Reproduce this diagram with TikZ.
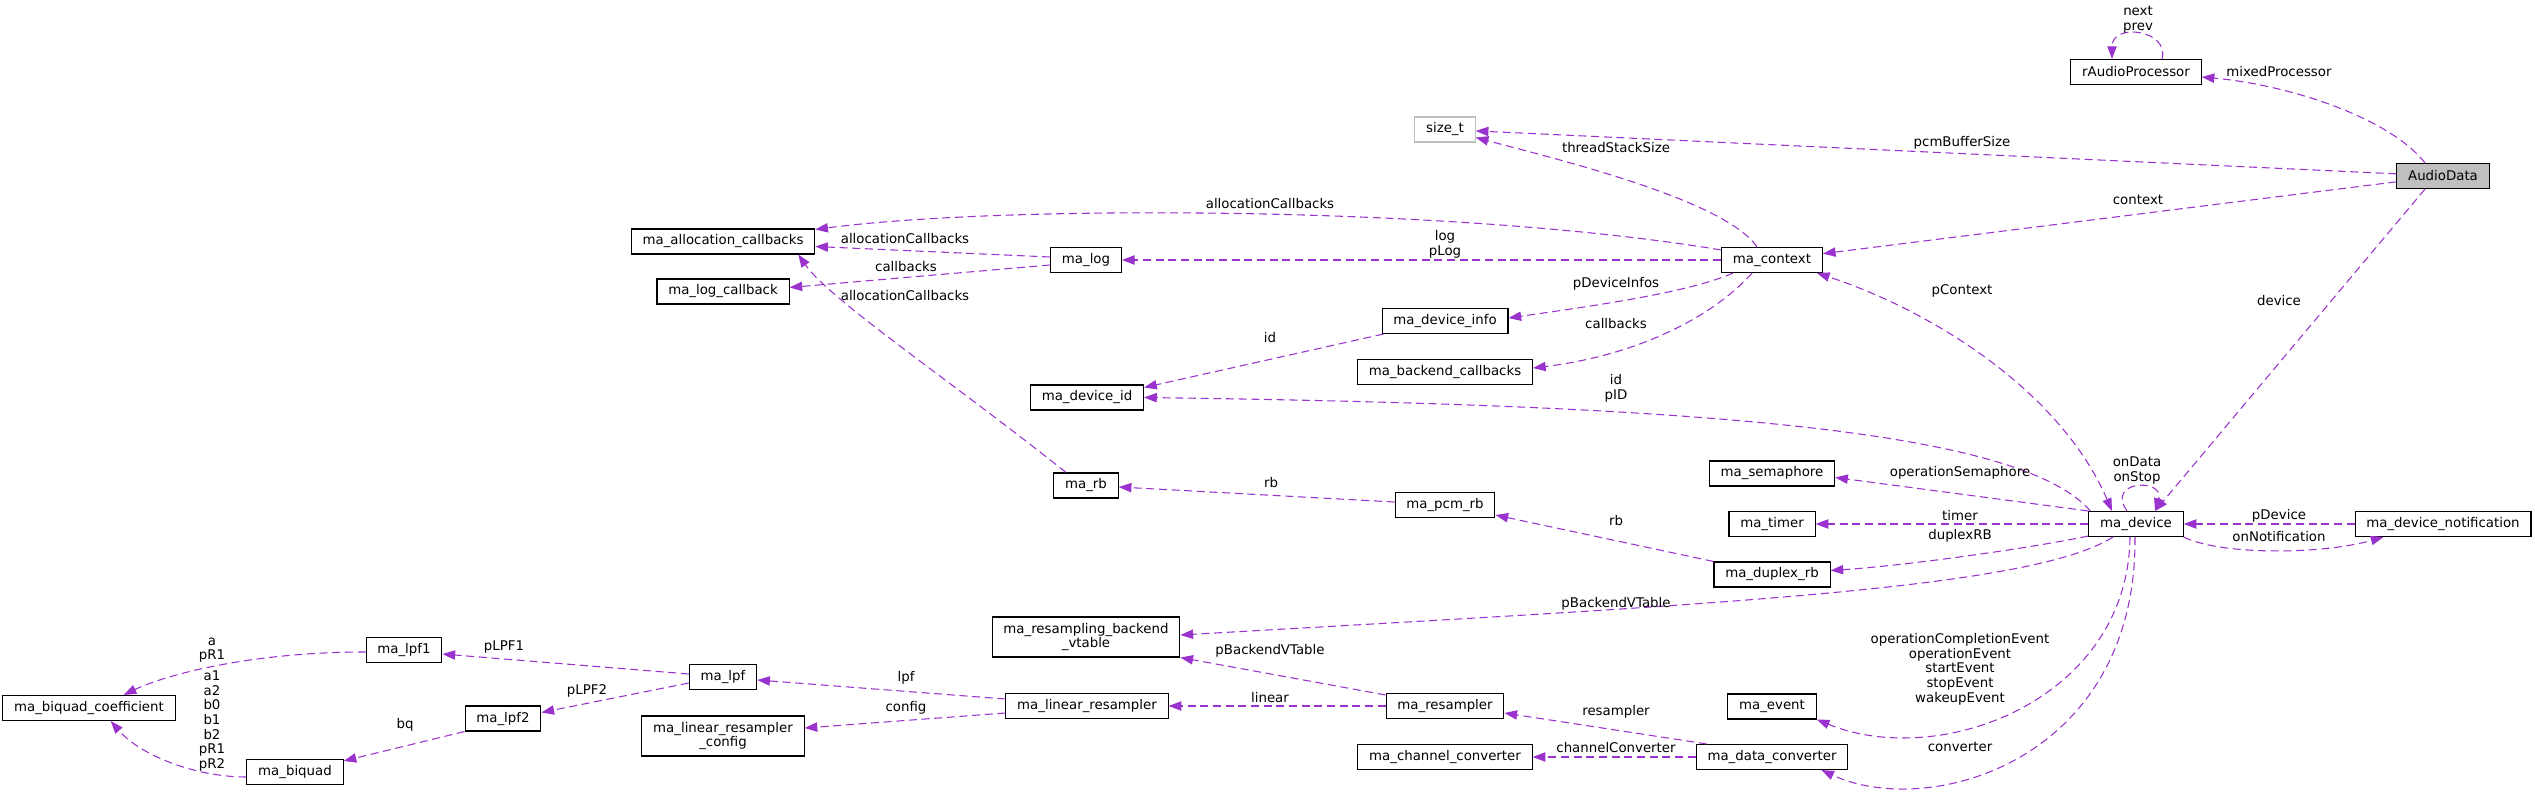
\documentclass[tikz,border=0pt]{standalone}
\usepackage{fontspec}
\setmainfont{DejaVu Sans}
\usetikzlibrary{arrows.meta,calc}
\definecolor{edgecol}{RGB}{154,50,205}
\definecolor{boxgray}{RGB}{191,191,191}
\begin{document}
\begin{tikzpicture}[x=0.75pt, y=-0.75pt,
        cls/.style={draw, line width=0.8pt, fill=white, minimum height=18.75pt,
            inner xsep=8.5pt, inner ysep=3pt, align=center, font=\fontsize{10}{11}\selectfont},
        lbl/.style={inner sep=0pt, align=center, font=\fontsize{10}{11}\selectfont},
        rel/.style={edgecol, line width=0.8pt, dash pattern=on 6pt off 3.5pt,
            -{Triangle[length=9.5pt, width=7pt]}},
        relboth/.style={rel, {Triangle[length=9.5pt, width=7pt]}-{Triangle[length=9.5pt, width=7pt]}}]
    \useasboundingbox (0,0) rectangle (2535,792);

    \node[cls] (rap) at (2136,72) {rAudioProcessor};
    \node[cls, fill=boxgray] (audio) at (2443,176) {AudioData};
    \node[cls, draw=boxgray] (sizet) at (1445,129.5) {size\_t};
    \node[cls] (ctx) at (1772,260) {ma\_context};
    \node[cls] (alloc) at (723,241.5) {ma\_allocation\_callbacks};
    \node[cls] (log) at (1086,260) {ma\_log};
    \node[cls] (logcb) at (723,291.5) {ma\_log\_callback};
    \node[cls] (devinfo) at (1445,321) {ma\_device\_info};
    \node[cls] (backcb) at (1445,372) {ma\_backend\_callbacks};
    \node[cls] (devid) at (1087,397.5) {ma\_device\_id};
    \node[cls] (rb) at (1086,485.5) {ma\_rb};
    \node[cls] (pcmrb) at (1445,505) {ma\_pcm\_rb};
    \node[cls, minimum height=30pt] (vtable) at (1086,637) {ma\_resampling\_backend\\\_vtable};
    \node[cls] (linres) at (1087,706) {ma\_linear\_resampler};
    \node[cls] (resampler) at (1445,706) {ma\_resampler};
    \node[cls] (chconv) at (1445,757) {ma\_channel\_converter};
    \node[cls] (lpf1) at (404,650) {ma\_lpf1};
    \node[cls] (lpf) at (723,677) {ma\_lpf};
    \node[cls] (lpf2) at (503,718.5) {ma\_lpf2};
    \node[cls] (bqcoef) at (89,708) {ma\_biquad\_coefficient};
    \node[cls] (biquad) at (295,772) {ma\_biquad};
    \node[cls, minimum height=30pt] (linrescfg) at (723,736) {ma\_linear\_resampler\\\_config};
    \node[cls] (sema) at (1772,473.5) {ma\_semaphore};
    \node[cls] (timer) at (1772,524) {ma\_timer};
    \node[cls] (duplex) at (1772,574.5) {ma\_duplex\_rb};
    \node[cls] (event) at (1772,706.5) {ma\_event};
    \node[cls] (dataconv) at (1772,757) {ma\_data\_converter};
    \node[cls] (device) at (2136,524) {ma\_device};
    \node[cls] (notif) at (2443,524) {ma\_device\_notification};

    \draw[rel] ($(rap.north)+(26,0)$) .. controls (2170,30) and (2112,22) .. ($(rap.north)+(-24,0)$);
    \draw[rel] ($(audio.north)+(-18,0)$) .. controls (2390,118) and (2290,85) .. ($(rap.east)+(0,5)$);
    \draw[rel] (audio) -- (sizet);
    \draw[rel] (audio) -- (ctx);
    \draw[rel] ($(audio.south)+(-18,0)$) -- ($(device.north)+(19,0)$);
    \draw[rel] ($(ctx.north)+(-15,0)$) .. controls (1725,200) and (1560,160) .. ($(sizet.south east)+(0,-5)$);
    \draw[rel] ($(ctx.north west)+(0,3)$) .. controls (1450,205) and (1000,205) .. ($(alloc.east)+(0,-12)$);
    \draw[rel] (ctx) -- (log);
    \draw[rel] ($(ctx.south west)+(12,0)$) .. controls (1690,292) and (1600,305) .. ($(devinfo.east)+(0,-3)$);
    \draw[rel] ($(ctx.south)+(-20,0)$) .. controls (1715,315) and (1640,355) .. ($(backcb.east)+(0,-4)$);
    \draw[rel] ($(log.west)+(0,-3)$) -- ($(alloc.east)+(0,5)$);
    \draw[rel] ($(log.west)+(0,5)$) -- ($(logcb.east)+(0,-4)$);
    \draw[rel] ($(rb.north)+(-20,0)$) .. controls (950,380) and (830,300) .. ($(alloc.south east)+(-17,0)$);
    \draw[rel] ($(devinfo.south west)+(2,0)$) -- ($(devid.east)+(0,-10)$);
    \draw[relboth] ($(device.north)+(-24,0)$) .. controls (2060,390) and (1930,310) .. ($(ctx.south east)+(-6,0)$);
    \draw[rel] ($(device.north west)+(2,0)$) .. controls (2020,430) and (1700,405) .. (devid.east);
    \draw[rel] ($(device.north)+(-9,0)$) .. controls (2105,480) and (2165,478) .. ($(device.north)+(19,0)$);
    \draw[rel] (device.north west) -- ($(sema.east)+(0,4)$);
    \draw[rel] (device) -- (timer);
    \draw[rel] ($(device.south west)+(0,-1)$) .. controls (2020,550) and (1900,566) .. ($(duplex.east)+(0,-4)$);
    \draw[rel] (duplex.north west) -- ($(pcmrb.south east)+(0,-3)$);
    \draw[rel] ($(pcmrb.west)+(0,-3)$) -- ($(rb.east)+(0,1.5)$);
    \draw[rel] ($(device.south)+(-23,0)$) .. controls (2030,590) and (1700,605) .. ($(vtable.east)+(0,-2)$);
    \draw[rel] ($(resampler.north west)+(0,2)$) -- (vtable.south east);
    \draw[rel] (resampler) -- (linres);
    \draw[rel] ($(dataconv.north west)+(11,0)$) -- ($(resampler.east)+(0,7)$);
    \draw[rel] (dataconv) -- (chconv);
    \draw[rel] ($(device.south)+(-6,0)$) .. controls (2128,700) and (1940,770) .. (event.south east);
    \draw[rel] ($(device.south)+(-1,0)$) .. controls (2137,760) and (1930,820) .. ($(dataconv.south east)+(-27,0)$);
    \draw[rel] (device.south east) .. controls (2220,555) and (2320,555) .. ($(notif.south west)+(29,0)$);
    \draw[rel] (notif) -- (device);
    \draw[rel] ($(linres.west)+(0,-7)$) -- ($(lpf.east)+(0,3)$);
    \draw[rel] ($(linres.west)+(0,7)$) -- ($(linrescfg.east)+(0,-8)$);
    \draw[rel] ($(lpf.west)+(0,-3)$) -- ($(lpf1.east)+(0,4)$);
    \draw[rel] ($(lpf.west)+(0,6)$) -- ($(lpf2.east)+(0,-6)$);
    \draw[rel] ($(lpf1.west)+(0,2)$) .. controls (250,652) and (165,675) .. ($(bqcoef.north east)+(-52,0)$);
    \draw[rel] (lpf2.south west) -- ($(biquad.north east)+(0,2)$);
    \draw[rel] ($(biquad.west)+(0,5)$) .. controls (195,777) and (140,755) .. ($(bqcoef.south east)+(-65,0)$);

    \node[lbl] (l-nextprev) at (2138,19.5) {next\\prev};
    \node[lbl] (l-mixed) at (2279,72) {mixedProcessor};
    \node[lbl] (l-pcmbuf) at (1962,143) {pcmBufferSize};
    \node[lbl] (l-context) at (2138,200) {context};
    \node[lbl] (l-device) at (2279,301) {device};
    \node[lbl] (l-stack) at (1616,148) {threadStackSize};
    \node[lbl] (l-alloc1) at (1270,204) {allocationCallbacks};
    \node[lbl] (l-log) at (1445,244.5) {log\\pLog};
    \node[lbl] (l-infos) at (1616,284) {pDeviceInfos};
    \node[lbl] (l-cb1) at (1616,324) {callbacks};
    \node[lbl] (l-alloc2) at (905,239) {allocationCallbacks};
    \node[lbl] (l-cb2) at (906,267) {callbacks};
    \node[lbl] (l-alloc3) at (905,296) {allocationCallbacks};
    \node[lbl] (l-id) at (1270,338) {id};
    \node[lbl] (l-pctx) at (1962,291) {pContext};
    \node[lbl] (l-pid) at (1616,388) {id\\pID};
    \node[lbl] (l-ondata) at (2137,470.5) {onData\\onStop};
    \node[lbl] (l-sema) at (1960,473) {operationSemaphore};
    \node[lbl] (l-timer) at (1960,516) {timer};
    \node[lbl] (l-duplex) at (1960,536) {duplexRB};
    \node[lbl] (l-pdev) at (2279,516) {pDevice};
    \node[lbl] (l-notif) at (2279,537) {onNotification};
    \node[lbl] (l-rb1) at (1616,521) {rb};
    \node[lbl] (l-rb2) at (1271,483) {rb};
    \node[lbl] (l-vt1) at (1616,604) {pBackendVTable};
    \node[lbl] (l-vt2) at (1270,651) {pBackendVTable};
    \node[lbl] (l-linear) at (1270,698) {linear};
    \node[lbl] (l-resamp) at (1616,712) {resampler};
    \node[lbl] (l-chconv) at (1616,748) {channelConverter};
    \node[lbl] (l-events) at (1960,669) {operationCompletionEvent\\operationEvent\\startEvent\\stopEvent\\wakeupEvent};
    \node[lbl] (l-conv) at (1960,747) {converter};
    \node[lbl] (l-lpf) at (906,678) {lpf};
    \node[lbl] (l-config) at (906,708) {config};
    \node[lbl] (l-lpf1) at (504,647) {pLPF1};
    \node[lbl] (l-lpf2) at (587,691) {pLPF2};
    \node[lbl] (l-apr) at (212,650) {a\\pR1};
    \node[lbl] (l-coefs) at (212,721) {a1\\a2\\b0\\b1\\b2\\pR1\\pR2};
    \node[lbl] (l-bq) at (405,725) {bq};
\end{tikzpicture}
\end{document}
